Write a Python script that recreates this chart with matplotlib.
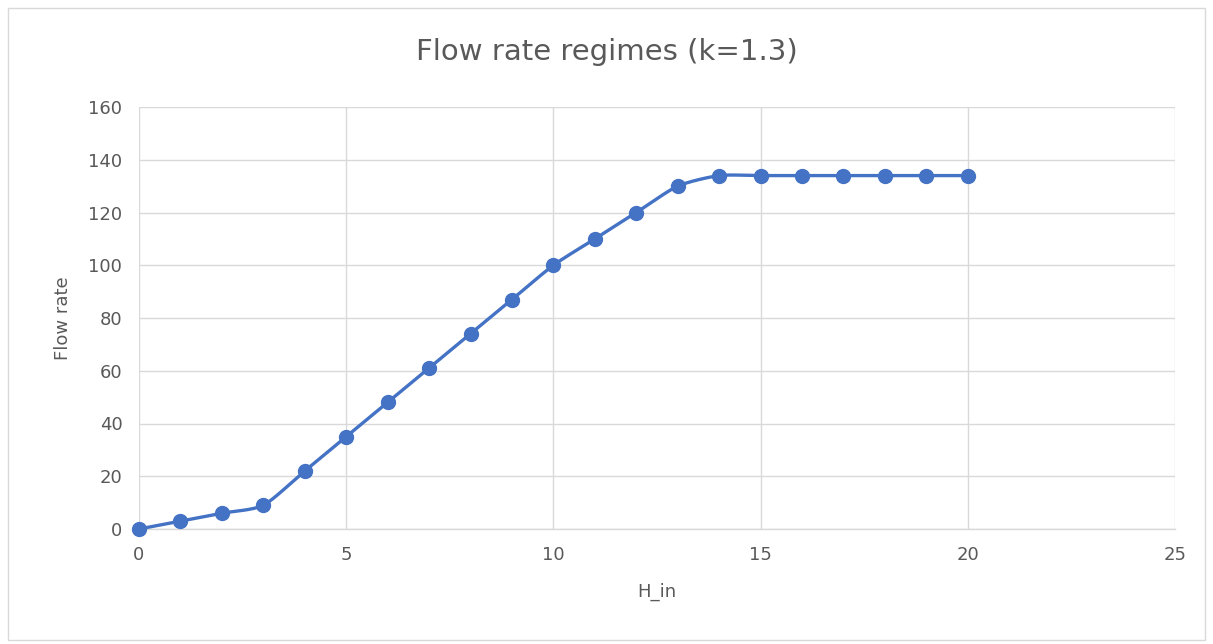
import numpy as np
import matplotlib.pyplot as plt
from matplotlib.patches import Rectangle

h_in = [0, 1, 2, 3, 4, 5, 6, 7, 8, 9, 10, 11, 12, 13, 14, 15, 16, 17, 18, 19, 20]
flow = [0, 3, 6, 9, 22, 35, 48, 61, 74, 87, 100, 110, 120, 130, 134, 134, 134, 134, 134, 134, 134]
x_ticks = [0, 5, 10, 15, 20, 25]
y_ticks = [0, 20, 40, 60, 80, 100, 120, 140, 160]

blue = '#4472C4'
grid_col = '#D9D9D9'
text_col = '#595959'


def smooth(x, y, n=20, t=0.5):
    # hermite curve through the points, close to excel "smoothed line"
    x = np.asarray(x, float)
    y = np.asarray(y, float)
    px = np.concatenate([[x[0]], x, [x[-1]]])
    py = np.concatenate([[y[0]], y, [y[-1]]])
    xs, ys = [], []
    s = np.linspace(0, 1, n)
    h1 = 2 * s**3 - 3 * s**2 + 1
    h2 = -2 * s**3 + 3 * s**2
    h3 = s**3 - 2 * s**2 + s
    h4 = s**3 - s**2
    for i in range(1, len(px) - 2):
        m1x = t * (px[i + 1] - px[i - 1]) / 2
        m1y = t * (py[i + 1] - py[i - 1]) / 2
        m2x = t * (px[i + 2] - px[i]) / 2
        m2y = t * (py[i + 2] - py[i]) / 2
        xs.append(h1 * px[i] + h2 * px[i + 1] + h3 * m1x + h4 * m2x)
        ys.append(h1 * py[i] + h2 * py[i + 1] + h3 * m1y + h4 * m2y)
    return np.concatenate(xs), np.concatenate(ys)


fig = plt.figure(figsize=(12.13, 6.44), dpi=100)
fig.patches.append(Rectangle((8 / 1213, 4 / 644), 1197 / 1213, 632 / 644, transform=fig.transFigure,
                             fill=False, edgecolor='#D9D9D9', linewidth=1))
ax = fig.add_axes([139 / 1213, 1 - 529 / 644, (1175 - 139) / 1213, (529 - 107) / 644])

sx, sy = smooth(h_in, flow, t=0.7)
ax.plot(sx, sy, color=blue, linewidth=2.4, zorder=3, solid_capstyle='round', clip_on=False)
ax.plot(h_in, flow, 'o', color=blue, markersize=10, zorder=4, clip_on=False)

ax.set_xlim(0, 25)
ax.set_ylim(0, 160)
ax.set_xticks(x_ticks)
ax.set_yticks(y_ticks)
ax.grid(True, color=grid_col, linewidth=1)
ax.set_axisbelow(True)
for side in ['top', 'right', 'left']:
    ax.spines[side].set_visible(False)
ax.spines['bottom'].set_color(grid_col)
ax.spines['bottom'].set_linewidth(1)
ax.tick_params(length=0, labelsize=13, labelcolor=text_col, pad=12)

ax.set_xlabel('H_in', fontsize=13, color=text_col, labelpad=14)
ax.set_ylabel('Flow rate', fontsize=13, color=text_col, labelpad=12)
fig.text(0.5, 1 - 52 / 644, 'Flow rate regimes (k=1.3)', ha='center', va='center',
         fontsize=21, color=text_col)

fig.savefig('out.png', dpi=100)
